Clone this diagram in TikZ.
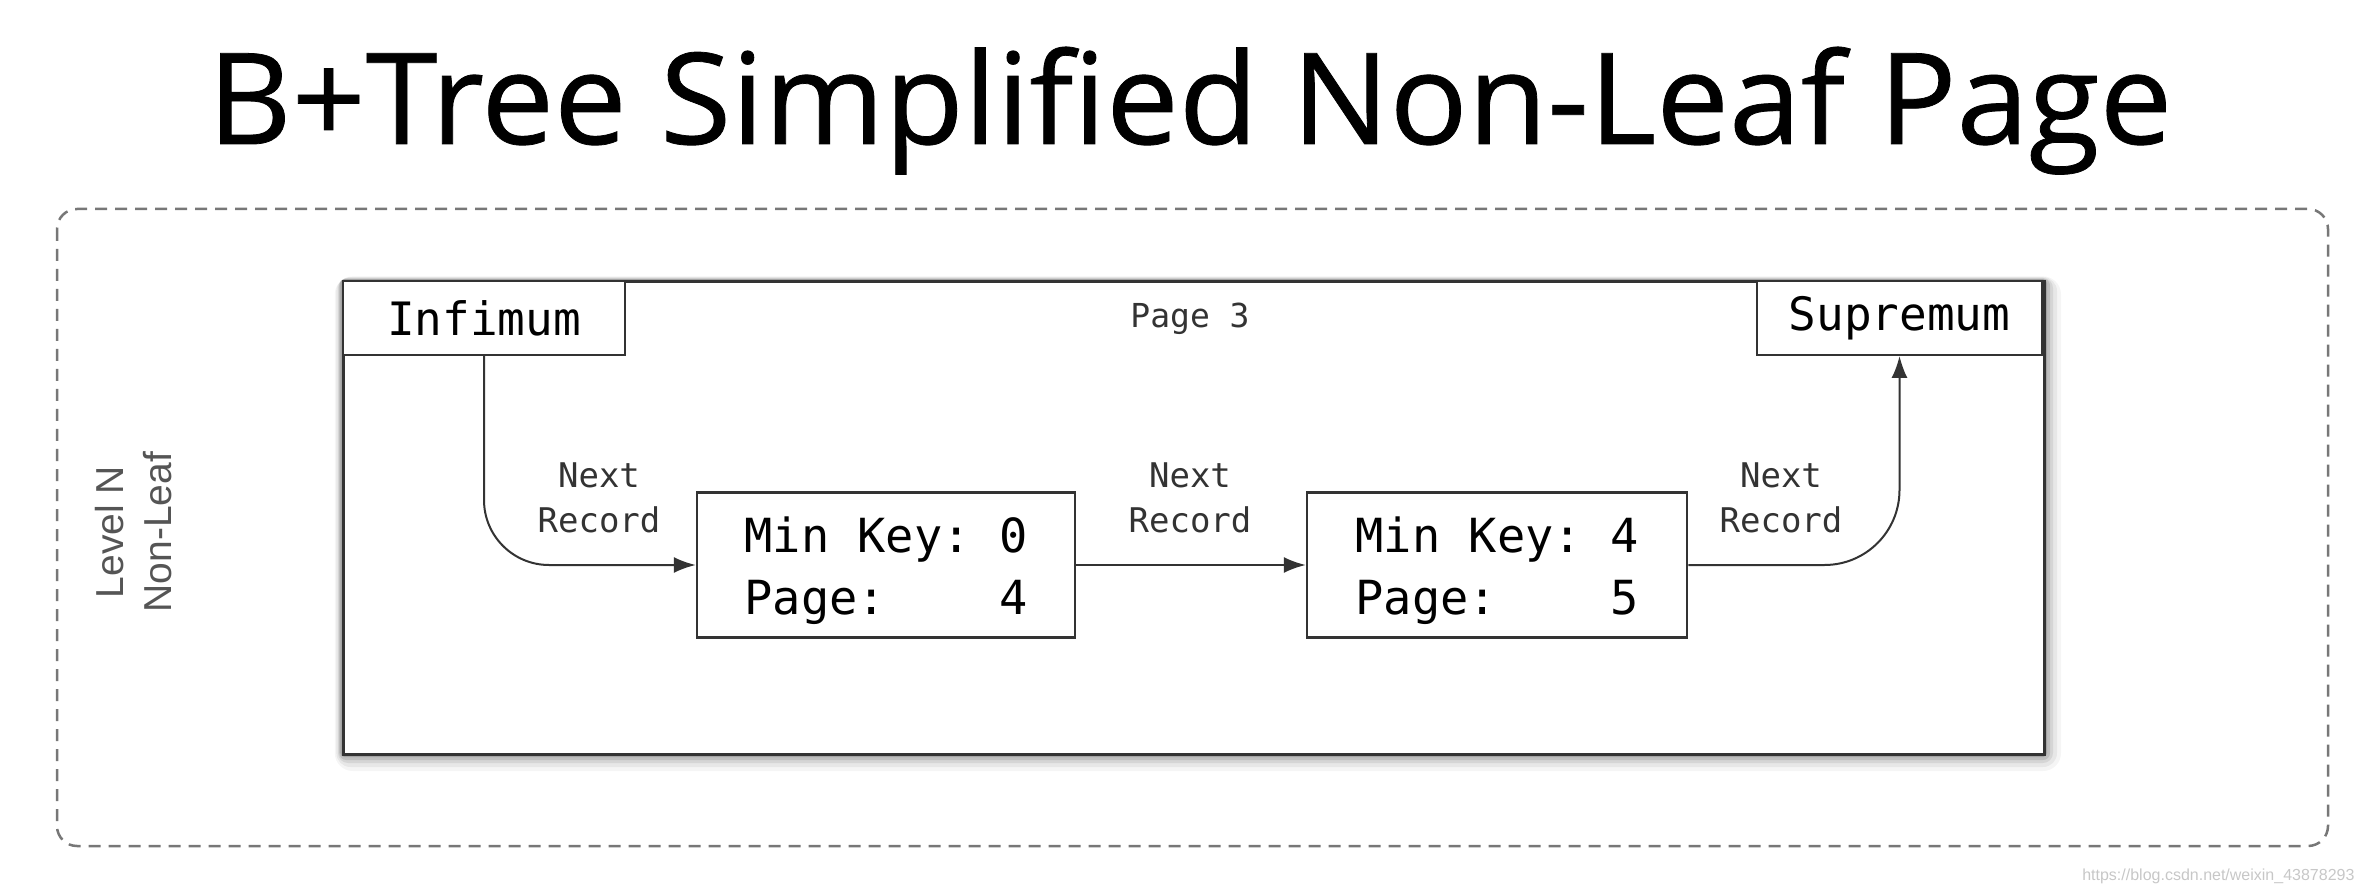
\documentclass[tikz,border=0pt]{standalone}
\usepackage{fontspec}
\setmonofont{DejaVu Sans Mono}
\newfontfamily\titlefont[FakeBold=0.6]{Open Sans}
\newfontfamily\lvlfont{Liberation Sans}
\usetikzlibrary{arrows.meta,calc}
\definecolor{linegray}{HTML}{333333}
\definecolor{dashgray}{HTML}{777777}
\definecolor{lblgray}{HTML}{555555}
\tikzset{
  pagebox/.style={draw=linegray, line width=3pt, fill=white, inner sep=0pt},
  hdrbox/.style={draw=linegray, line width=2pt, fill=white, inner sep=0pt, font=\fontsize{46}{50}\selectfont\ttfamily},
  recbox/.style={draw=linegray, line width=2.5pt, fill=white, inner sep=0pt, minimum height=145pt, font=\fontsize{47}{62}\selectfont\ttfamily},
  nextlbl/.style={align=center, text=linegray, font=\fontsize{34}{45}\selectfont\ttfamily},
  arr/.style={draw=linegray, line width=2pt, -{Latex[length=22pt,width=16pt]}},
  dashbox/.style={draw=dashgray, line width=2.5pt, dash pattern=on 12pt off 8pt, rounded corners=20pt}
}
\newcommand{\recrows}[2]{\begin{tabular}{@{}l@{\hspace{0.602em}}r@{}}\rule{0pt}{56pt}Min Key:&#1\\Page:&#2\end{tabular}}
\begin{document}
\begin{tikzpicture}[x=1pt, y=-1pt]
\useasboundingbox (0,0) rectangle (2370,890);
% title
\node[anchor=base, font=\titlefont\fontsize{127}{130}\selectfont, xscale=1.02] (title) at (1190,144) {B+Tree Simplified Non-Leaf Page};
% dashed level frame
\draw[dashbox] (57,209) rectangle (2328,846);
\node[rotate=90, align=center, text=lblgray, font=\lvlfont\fontsize{39}{48}\selectfont] (level) at (134,532) {Level N\\Non-Leaf};
% page shadow
\foreach \d/\o in {18/0.04, 14/0.06, 10/0.08, 7/0.10, 4/0.14} {
  \fill[black, opacity=\o, rounded corners=\d pt] ({342-0.4*\d}, {280-0.2*\d}) rectangle ({2043+\d}, {753+\d});
}
% page box
\node[pagebox, minimum width=1701pt, minimum height=473pt, anchor=north west] (page) at (342,280) {};
\node[hdrbox, minimum width=282pt, minimum height=74pt, anchor=north west] (inf) at (342,280) {Infimum};
\node[hdrbox, minimum width=285pt, minimum height=74pt, anchor=north east] (sup) at (2043,280) {Supremum};
\node[text=linegray, font=\fontsize{33}{36}\selectfont\ttfamily] (pg) at (1190,319) {Page 3};
% records
\node[recbox, minimum width=378pt] (rec1) at (886,565) {\recrows{0}{4}};
\node[recbox, minimum width=380pt] (rec2) at (1497,565) {\recrows{4}{5}};
% connectors
\draw[arr, rounded corners=65pt] (inf.south) |- (rec1.west);
\draw[arr] (rec1.east) -- (rec2.west);
\draw[arr, rounded corners=75pt] (rec2.east) -| (sup.south);
% labels
\node[nextlbl] (n1) at (599,498) {Next\\Record};
\node[nextlbl] (n2) at (1190,498) {Next\\Record};
\node[nextlbl] (n3) at (1781,498) {Next\\Record};
% watermark
\node[anchor=base east, text=black!22, font=\lvlfont\fontsize{16}{18}\selectfont] (wm) at (2358,880) {https://blog.csdn.net/weixin\_43878293};
\end{tikzpicture}
\end{document}
